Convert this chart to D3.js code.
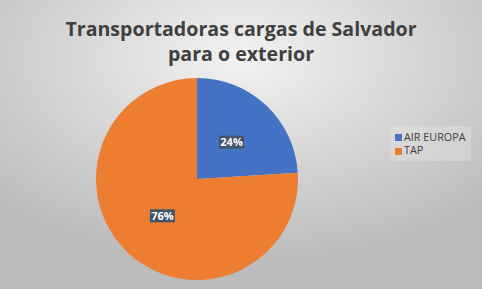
<!DOCTYPE html>
<html>
<head>
<meta charset="utf-8">
<script src="https://cdn.jsdelivr.net/npm/d3@7"></script>
<style>
  body { margin: 0; }
  svg { display: block; }
</style>
</head>
<body>
<svg id="chart" width="482" height="289"></svg>
<script>
// chart data
let titleLines = ["Transportadoras cargas de Salvador", "para o exterior"];
let carriers = ["AIR EUROPA", "TAP"];
let shares = [24, 76];
let sliceColors = ["#4472c4", "#ed7d31"];

let svg = d3.select("#chart");
let width = +svg.attr("width");
let height = +svg.attr("height");

// background radial gradient
let defs = svg.append("defs");
let grad = defs.append("radialGradient")
    .attr("id", "bg")
    .attr("cx", "50%").attr("cy", "20%").attr("r", "70%");
grad.append("stop").attr("offset", "0%").attr("stop-color", "#f2f2f2");
grad.append("stop").attr("offset", "100%").attr("stop-color", "#bcbcbc");

svg.append("rect")
    .attr("width", width).attr("height", height)
    .attr("fill", "url(#bg)");

// title
titleLines.forEach((line, i) => {
    svg.append("text")
        .attr("x", 241)
        .attr("y", 36 + i * 24.5)
        .attr("text-anchor", "middle")
        .attr("font-family", "Open Sans")
        .attr("font-weight", "bold")
        .attr("font-size", 19.6)
        .attr("fill", "#404040")
        .text(line);
});

// pie
let pieAttr = { x: 197, y: 179, r: 101 };
let g = svg.append("g")
    .attr("transform", "translate(" + pieAttr.x + "," + pieAttr.y + ")");

let pie = d3.pie().sort(null).value(d => d);
let arcs = pie(shares);
let arc = d3.arc().innerRadius(0).outerRadius(pieAttr.r);
let labelArc = d3.arc().innerRadius(pieAttr.r * 0.5).outerRadius(pieAttr.r * 0.5);

g.selectAll("path")
    .data(arcs)
    .join("path")
    .attr("d", arc)
    .attr("fill", (d, i) => sliceColors[i]);

// data labels with dark boxes
arcs.forEach((d, i) => {
    let [lx, ly] = labelArc.centroid(d);
    let lg = g.append("g").attr("transform", "translate(" + lx + "," + ly + ")");
    lg.append("rect")
        .attr("x", -12.5).attr("y", -6.5)
        .attr("width", 25).attr("height", 13)
        .attr("fill", "#44546a");
    lg.append("text")
        .attr("text-anchor", "middle")
        .attr("dy", "0.36em")
        .attr("font-family", "Open Sans")
        .attr("font-weight", "bold")
        .attr("font-size", 11)
        .attr("fill", "#ffffff")
        .text(shares[i] + "%");
});

// legend
let legend = svg.append("g").attr("transform", "translate(390,126)");
legend.append("rect")
    .attr("width", 81).attr("height", 35)
    .attr("fill", "#e8e8e8").attr("fill-opacity", 0.35);
carriers.forEach((name, i) => {
    legend.append("rect")
        .attr("x", 5).attr("y", 8 + i * 14)
        .attr("width", 7).attr("height", 7)
        .attr("fill", sliceColors[i]);
    legend.append("text")
        .attr("x", 14).attr("y", 14.5 + i * 13.5)
        .attr("font-family", "Open Sans")
        .attr("font-size", 10.8)
        .attr("fill", "#404040")
        .text(name);
});
</script>
</body>
</html>
